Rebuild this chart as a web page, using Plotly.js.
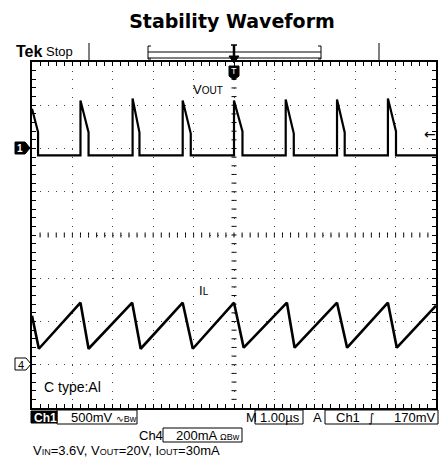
<!DOCTYPE html>
<html><head><meta charset="utf-8">
<script src="https://cdn.plot.ly/plotly-3.0.1.min.js"></script>
<style>html,body{margin:0;padding:0;background:#fff;}#chart{width:443px;height:463px;}</style>
</head><body><div id="chart"></div>
<script>
// ---- data (time in microseconds, Ch1 in volts, Ch4 in mA) ----
const chartTitle = "Stability Waveform";
const voutTime = [-5.00,-4.85,-4.85,-3.80,-3.80,-3.60,-3.60,-2.51,-2.51,-2.34,-2.34,-1.27,-1.27,-1.07,-1.07,0.00,0.00,0.21,0.21,1.28,1.28,1.48,1.48,2.55,2.55,2.74,2.74,3.81,3.81,4.01,4.01,5.00];
const voutVolts = [0.46,0.19,-0.08,-0.08,0.555,0.185,-0.08,-0.08,0.578,0.185,-0.08,-0.08,0.555,0.173,-0.08,-0.08,0.555,0.197,-0.08,-0.08,0.566,0.173,-0.08,-0.08,0.566,0.185,-0.08,-0.08,0.578,0.197,-0.08,-0.08];
const ilTime = [-5.00,-4.83,-3.80,-3.60,-2.52,-2.31,-1.27,-1.02,0.00,0.24,1.31,1.50,2.55,2.80,3.81,4.03,5.00];
const ilCurrent = [227,74,287,74,287,74,287,74,287,79,287,79,287,79,287,79,273];
const ch1Range = [-3, 1];      // 500 mV/div, ground 2 div above centre
const ch4Range = [-200, 1400]; // 200 mA/div, ground 3 div below centre
const timeRange = [-5, 5];     // 1.00 us/div
const statusCh1 = "500mV";
const statusCh4 = "200mA";
const statusTime = "1.00µs";
const statusTrig = "170mV";
const captionText = "V<span style='font-size:9px'>IN</span>=3.6V, V<span style='font-size:9px'>OUT</span>=20V, I<span style='font-size:9px'>OUT</span>=30mA";

// ---- layout geometry helpers ----
const W = 443, H = 463, L = 32, R = 7, T = 62, B = 55;
const PW = W - L - R, PH = H - T - B;
const px = x => (x - L) / PW;
const py = y => (H - B - y) / PH;
const FONT = "Liberation Sans, Arial, sans-serif";

const traces = [
  {x: voutTime, y: voutVolts, type: 'scatter', mode: 'lines', xaxis: 'x', yaxis: 'y',
   line: {color: '#000', width: 2.2}, hoverinfo: 'skip', showlegend: false},
  {x: ilTime, y: ilCurrent, type: 'scatter', mode: 'lines', xaxis: 'x', yaxis: 'y2',
   line: {color: '#000', width: 2.6}, hoverinfo: 'skip', showlegend: false}
];

const axBase = {showticklabels: false, zeroline: false, fixedrange: true};
const layout = {
  width: W, height: H, margin: {l: L, r: R, t: T, b: B, pad: 0},
  paper_bgcolor: '#fff', plot_bgcolor: '#fff', showlegend: false,
  font: {family: FONT, color: '#000'},
  title: {text: '<b>' + chartTitle + '</b>', x: px(232), xref: 'paper', xanchor: 'center',
          y: 1 - 21 / H, yref: 'container', yanchor: 'middle',
          font: {family: "DejaVu Sans, sans-serif", size: 19, color: '#000'}},
  xaxis: Object.assign({}, axBase, {range: timeRange, dtick: 1, tick0: 0,
    showgrid: true, gridcolor: '#444', gridwidth: 1, griddash: '1px,7.65px',
    ticks: 'inside', ticklen: 4, tickcolor: '#000', tickwidth: 1,
    showline: true, linecolor: '#000', linewidth: 2, mirror: 'ticks',
    minor: {dtick: 0.2, ticks: 'inside', ticklen: 4, tickcolor: '#000', tickwidth: 1, showgrid: false}}),
  yaxis: Object.assign({}, axBase, {range: ch1Range, dtick: 0.5, tick0: 0,
    showgrid: true, gridcolor: '#444', gridwidth: 1, griddash: '1px,7.07px',
    ticks: 'inside', ticklen: 4, tickcolor: '#000', tickwidth: 1,
    showline: true, linecolor: '#000', linewidth: 2, mirror: 'ticks',
    minor: {dtick: 0.1, ticks: 'inside', ticklen: 4, tickcolor: '#000', tickwidth: 1, showgrid: false}}),
  yaxis2: Object.assign({}, axBase, {range: ch4Range, overlaying: 'y', visible: false}),
  shapes: [],
  annotations: []
};

const S = layout.shapes, A = layout.annotations;
function line(x0, y0, x1, y1, w) {
  S.push({type: 'line', xref: 'paper', yref: 'paper', x0: px(x0), y0: py(y0), x1: px(x1), y1: py(y1),
          line: {color: '#000', width: w || 1}});
}
function path(pts, fill, lc) {
  const d = pts.map((p, i) => (i ? 'L' : 'M') + px(p[0]) + ',' + py(p[1])).join(' ') + ' Z';
  S.push({type: 'path', xref: 'paper', yref: 'paper', path: d, fillcolor: fill,
          line: {color: lc || '#000', width: 1}});
}
function text(t, x, y, opts) {
  A.push(Object.assign({text: t, xref: 'paper', yref: 'paper', x: px(x), y: py(y),
    xanchor: 'left', yanchor: 'middle', showarrow: false,
    font: {family: FONT, size: 13, color: '#000'}}, opts || {}));
}

// centre cross-hair minor ticks (every 0.2 division), placed on the axis scales
const xMid = (timeRange[0] + timeRange[1]) / 2, yMid = (ch1Range[0] + ch1Range[1]) / 2;
const xDiv = (timeRange[1] - timeRange[0]) / 10, yDiv = (ch1Range[1] - ch1Range[0]) / 8;
for (let k = 1; k < 50; k++) {
  const xv = timeRange[0] + k * xDiv / 5;
  S.push({type: 'line', xref: 'x', yref: 'paper', x0: xv, x1: xv, y0: 0.5 - 2.5 / PH, y1: 0.5 + 2.5 / PH,
          line: {color: '#000', width: 1}, layer: 'below'});
}
for (let k = 1; k < 40; k++) {
  const yv = ch1Range[0] + k * yDiv / 5;
  S.push({type: 'line', xref: 'paper', yref: 'y', x0: 0.5 - 2.5 / PW, x1: 0.5 + 2.5 / PW, y0: yv, y1: yv,
          line: {color: '#000', width: 1}, layer: 'below'});
}

// top record bar
line(89, 43, 89, 62, 1);
line(379, 43, 379, 62, 1);
line(148, 46, 148, 59, 1); line(148, 46, 151, 46, 1); line(148, 59, 151, 59, 1);
line(321, 46, 321, 59, 1); line(318, 46, 321, 46, 1); line(318, 59, 321, 59, 1);
line(148, 52, 321, 52, 1);
line(148, 58, 321, 58, 1);
// trigger position marker
line(231, 45, 237, 45, 1.5);
line(234, 45, 234, 57, 2.5);
path([[229, 56], [239, 56], [234, 63]], '#000');
path([[229, 66], [239, 66], [239, 76], [234, 80], [229, 76]], '#000');
text('T', 234, 71.5, {xanchor: 'center', font: {family: FONT, size: 9, color: '#fff'}});
// channel ground markers
path([[15, 142], [25, 142], [30, 148], [25, 154], [15, 154]], '#000');
text('<b>1</b>', 20, 148.5, {xanchor: 'center', font: {family: FONT, size: 10, color: '#fff'}});
path([[15, 358], [26, 358], [31, 364], [26, 370], [15, 370]], '#fff');
text('4', 20.5, 364.5, {xanchor: 'center', font: {family: FONT, size: 11, color: '#000'}});
// trigger level arrow
text('←', 438, 134, {xanchor: 'right', font: {family: "DejaVu Sans", size: 14, color: '#000'}});

// header text
text('<b>Tek</b>', 14, 52, {font: {family: FONT, size: 16, color: '#000'}});
text('Stop', 44, 52, {font: {family: FONT, size: 13, color: '#000'}});

// trace labels
text("V<span style='font-size:10px'>OUT</span>", 191, 90, {font: {family: FONT, size: 13, color: '#000'}});
text("I<span style='font-size:10px'>L</span>", 197, 290, {font: {family: FONT, size: 13, color: '#000'}});
text('C type:Al', 42, 387, {font: {family: FONT, size: 14, color: '#000'}});

// status row 1
S.push({type: 'rect', xref: 'paper', yref: 'paper', x0: px(31), x1: px(57), y0: py(423), y1: py(411),
        fillcolor: '#000', line: {color: '#000', width: 1}});
text('<b>Ch1</b>', 32, 417.5, {font: {family: FONT, size: 12, color: '#fff'}});
S.push({type: 'rect', xref: 'paper', yref: 'paper', x0: px(57), x1: px(137), y0: py(424), y1: py(410),
        fillcolor: 'rgba(0,0,0,0)', line: {color: '#000', width: 1}});
text(statusCh1 + " <span style='font-size:9px'>∿Bw</span>", 69, 417.5, {font: {family: FONT, size: 13, color: '#000'}});
text('M', 244, 417.5, {font: {family: FONT, size: 13, color: '#000'}});
S.push({type: 'rect', xref: 'paper', yref: 'paper', x0: px(255), x1: px(303), y0: py(424), y1: py(410),
        fillcolor: 'rgba(0,0,0,0)', line: {color: '#000', width: 1}});
text(statusTime, 258, 417.5, {font: {family: FONT, size: 13, color: '#000'}});
text('A', 311, 417.5, {font: {family: FONT, size: 13, color: '#000'}});
S.push({type: 'rect', xref: 'paper', yref: 'paper', x0: px(325), x1: px(438), y0: py(424), y1: py(410),
        fillcolor: 'rgba(0,0,0,0)', line: {color: '#000', width: 1}});
text('Ch1', 334, 417.5, {font: {family: FONT, size: 13, color: '#000'}});
text('∫', 366, 417.5, {font: {family: "DejaVu Sans", size: 12, color: '#000'}});
text(statusTrig, 392, 417.5, {font: {family: FONT, size: 13, color: '#000'}});
// status row 2
text('Ch4', 137, 435, {font: {family: FONT, size: 13, color: '#000'}});
S.push({type: 'rect', xref: 'paper', yref: 'paper', x0: px(163), x1: px(242), y0: py(442), y1: py(428),
        fillcolor: 'rgba(0,0,0,0)', line: {color: '#000', width: 1}});
text(statusCh4 + " <span style='font-size:9px'>ΩBw</span>", 174, 435, {font: {family: FONT, size: 13, color: '#000'}});
// caption
text(captionText, 31, 451, {font: {family: FONT, size: 13, color: '#000'}});

Plotly.newPlot('chart', traces, layout, {staticPlot: true, displayModeBar: false});
</script>
</body></html>
